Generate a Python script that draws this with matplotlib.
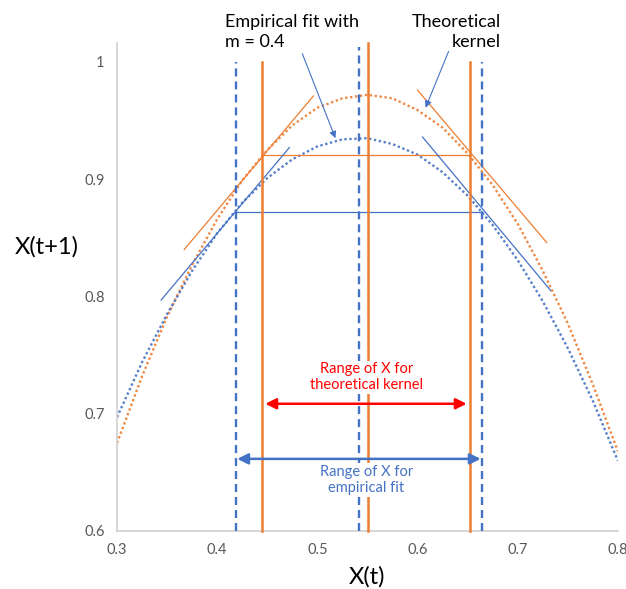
import matplotlib.pyplot as plt

plt.rcParams['font.family'] = ['Lato', 'DejaVu Sans']

ORANGE = '#ED7D31'
BLUE = '#4472C4'
RED = '#FF0000'

# curve samples
x = [0.300, 0.325, 0.350, 0.375, 0.400, 0.425, 0.450, 0.475, 0.500, 0.525, 0.550,
     0.575, 0.600, 0.625, 0.650, 0.675, 0.700, 0.725, 0.750, 0.775, 0.800]
theoretical = [0.675, 0.732, 0.783, 0.827, 0.866, 0.899, 0.925, 0.946, 0.961, 0.969, 0.972,
               0.969, 0.959, 0.944, 0.922, 0.895, 0.862, 0.822, 0.777, 0.725, 0.668]
empirical = [0.697, 0.744, 0.785, 0.822, 0.854, 0.880, 0.901, 0.917, 0.928, 0.934, 0.935,
             0.930, 0.921, 0.906, 0.886, 0.861, 0.831, 0.796, 0.756, 0.711, 0.660]

# fixed points: x bounds and level of each horizontal line
theo_lo, theo_mid, theo_hi, theo_level = 0.445, 0.551, 0.652, 0.9205
emp_lo, emp_mid, emp_hi, emp_level = 0.419, 0.542, 0.664, 0.872

# tangent segments (x0, y0, x1, y1)
theo_tangents = [(0.367, 0.840, 0.496, 0.971), (0.600, 0.976, 0.729, 0.846)]
emp_tangents = [(0.344, 0.797, 0.472, 0.927), (0.605, 0.936, 0.733, 0.805)]

fig = plt.figure(figsize=(6.26, 5.89), dpi=100)
ax = fig.add_axes([0.187, 0.0985, 0.800, 0.8285])

ax.plot(x, theoretical, color=ORANGE, lw=1.7, ls=(0, (1, 1.1)), alpha=0.9)
ax.plot(x, empirical, color=BLUE, lw=1.7, ls=(0, (1, 1.1)), alpha=0.9)

# vertical markers
for xv, top in [(theo_lo, 1.0), (theo_mid, 1.016), (theo_hi, 1.0)]:
    ax.plot([xv, xv], [0.6, top], color=ORANGE, lw=1.8, clip_on=False, zorder=3)
for xv, top in [(emp_lo, 1.0), (emp_mid, 1.013), (emp_hi, 1.0)]:
    ax.plot([xv, xv], [0.6, top], color=BLUE, lw=1.7, ls=(0, (3.4, 2.1)),
            clip_on=False, zorder=3)

# horizontal levels
ax.plot([theo_lo, theo_hi], [theo_level, theo_level], color=ORANGE, lw=0.9)
ax.plot([emp_lo, emp_hi], [emp_level, emp_level], color=BLUE, lw=0.9)

for x0, y0, x1, y1 in theo_tangents:
    ax.plot([x0, x1], [y0, y1], color=ORANGE, lw=0.9)
for x0, y0, x1, y1 in emp_tangents:
    ax.plot([x0, x1], [y0, y1], color=BLUE, lw=0.9)

# range arrows and labels
ax.annotate('', xy=(theo_lo + 0.003, 0.7085), xytext=(theo_hi - 0.003, 0.7085),
            arrowprops=dict(arrowstyle='<|-|>', color=RED, lw=1.8, mutation_scale=16,
                            shrinkA=0, shrinkB=0), zorder=6)
ax.annotate('', xy=(emp_lo + 0.001, 0.6615), xytext=(emp_hi - 0.001, 0.6615),
            arrowprops=dict(arrowstyle='<|-|>', color=BLUE, lw=1.8, mutation_scale=16,
                            shrinkA=0, shrinkB=0), zorder=6)
ax.text(0.549, 0.731, 'Range of X for\ntheoretical kernel', color=RED, fontsize=10.5,
        ha='center', va='center', linespacing=1.2, zorder=5,
        bbox=dict(facecolor='white', edgecolor='none', pad=1.0))
ax.text(0.549, 0.6435, 'Range of X for\nempirical fit', color=BLUE, fontsize=10.5,
        ha='center', va='center', linespacing=1.2, zorder=5,
        bbox=dict(facecolor='white', edgecolor='none', pad=1.0))

# callouts above the plot
ax.text(0.408, 1.0255, 'Empirical fit with\nm = 0.4', fontsize=13, ha='left',
        va='center', linespacing=1.3, clip_on=False)
ax.text(0.683, 1.0255, 'Theoretical\nkernel', fontsize=13, ha='right',
        va='center', linespacing=1.3, clip_on=False)
ax.annotate('', xy=(0.518, 0.935), xytext=(0.485, 1.007), annotation_clip=False,
            arrowprops=dict(arrowstyle='-|>', color=BLUE, lw=0.8, mutation_scale=10,
                            shrinkA=0, shrinkB=0))
ax.annotate('', xy=(0.608, 0.961), xytext=(0.631, 1.009), annotation_clip=False,
            arrowprops=dict(arrowstyle='-|>', color=BLUE, lw=0.8, mutation_scale=10,
                            shrinkA=0, shrinkB=0))

ax.set_xlim(0.3, 0.8)
ax.set_ylim(0.6, 1.0162)
ax.set_xticks([0.3, 0.4, 0.5, 0.6, 0.7, 0.8])
ax.set_xticklabels(['0.3', '0.4', '0.5', '0.6', '0.7', '0.8'])
ax.set_yticks([0.6, 0.7, 0.8, 0.9, 1.0])
ax.set_yticklabels(['0.6', '0.7', '0.8', '0.9', '1'])
ax.tick_params(length=0, labelsize=10.5, labelcolor='#595959', pad=9)
for side in ['top', 'right']:
    ax.spines[side].set_visible(False)
for side in ['left', 'bottom']:
    ax.spines[side].set_color('#D0D0D0')
    ax.spines[side].set_linewidth(1.2)

ax.set_xlabel('X(t)', fontsize=17, labelpad=6)
ax.set_ylabel('X(t+1)', fontsize=17, rotation=0, labelpad=0)
ax.yaxis.set_label_coords(-0.14, 0.56)

fig.savefig('out.png', dpi=100)
